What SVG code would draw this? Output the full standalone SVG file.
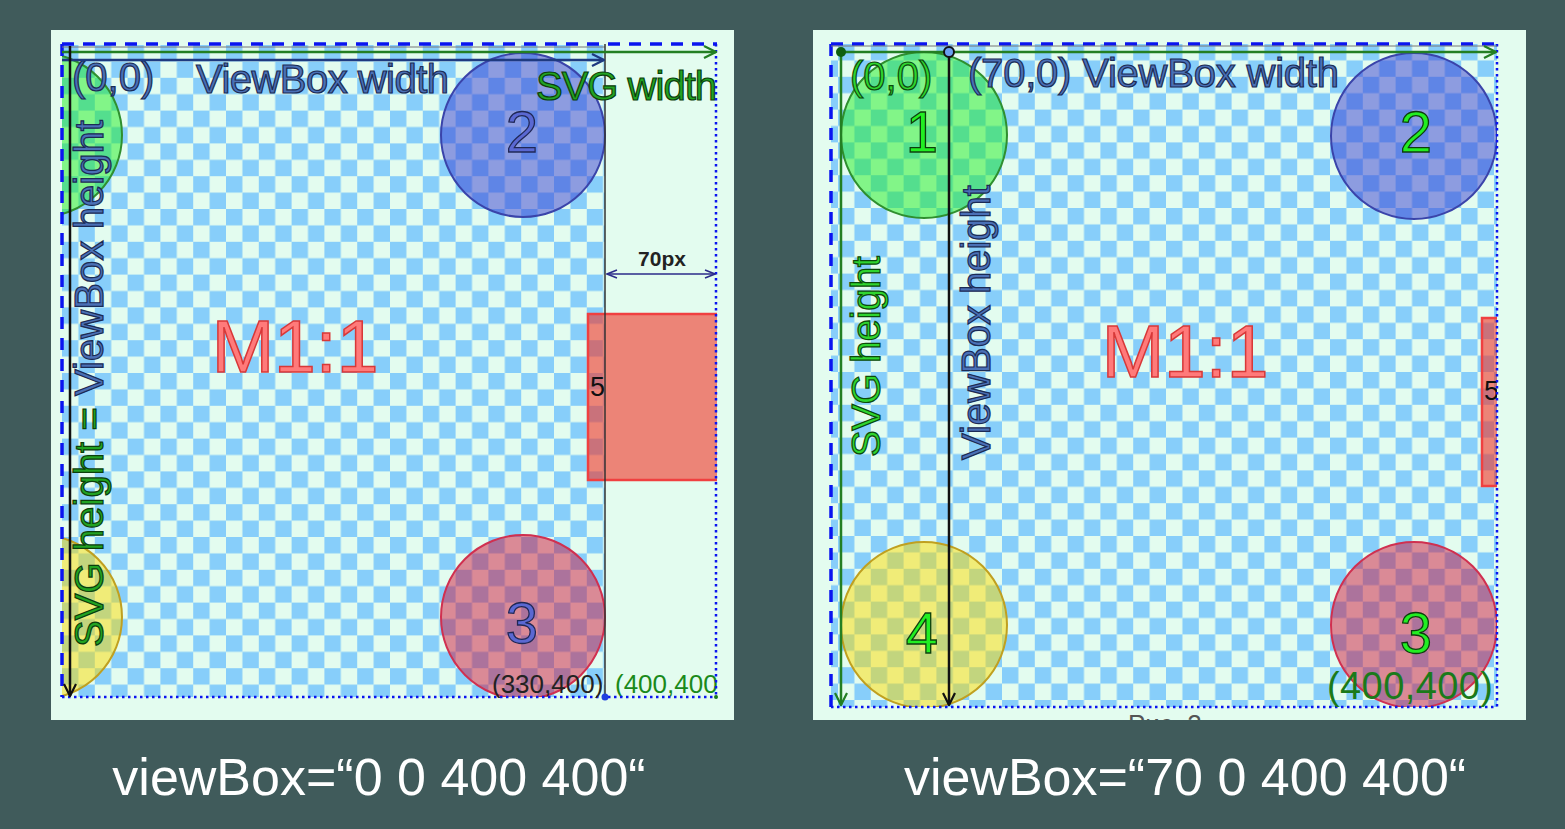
<svg xmlns="http://www.w3.org/2000/svg" width="1565" height="829" viewBox="0 0 1565 829">
  <style>
    text { font-family: "Liberation Sans", Arial, sans-serif; }
    .panel { fill: #e3fcef; }
    .navyT { fill: #4a70b6; stroke: #1b2b55; stroke-width: 1.2; font-size: 40px; }
    .greenT { fill: #22a322; stroke: #0b3f0b; stroke-width: 1.2; font-size: 40px; }
    .limeT { fill: #2fd52f; stroke: #0b4a0b; stroke-width: 1.2; font-size: 40px; }
    .numL { fill: #5a68d2; stroke: #1f2755; stroke-width: 1.3; font-size: 58px; text-anchor: middle; }
    .numR { fill: #22ee22; stroke: #0d3d0d; stroke-width: 1.3; font-size: 58px; text-anchor: middle; }
    .m11 { fill: #ff7a7a; stroke: #d83838; stroke-width: 1.5; font-size: 75px; text-anchor: middle; }
    .cap { fill: #ffffff; font-size: 52px; text-anchor: middle; }
    .c1 { fill: #22ee22; fill-opacity: 0.5; stroke: #2f8f2f; stroke-width: 2; }
    .c2 { fill: #383cd2; fill-opacity: 0.5; stroke: #3a44aa; stroke-width: 2; }
    .c3 { fill: #d2183e; fill-opacity: 0.5; stroke: #d03050; stroke-width: 2; }
    .c4 { fill: #fedc02; fill-opacity: 0.5; stroke: #c0a020; stroke-width: 2; }
    .r5 { fill: #f23a2d; fill-opacity: 0.62; stroke: #f04040; stroke-width: 2.5; }
    .dash { stroke: #0a14f0; stroke-width: 3.5; stroke-dasharray: 12 9; fill: none; }
    .dot { stroke: #0a14f0; stroke-width: 2.5; stroke-dasharray: 2.5 3.5; fill: none; }
    .garr { stroke: #237f23; stroke-width: 2.5; fill: none; marker-end: url(#mG); }
    .narr { stroke: #1f3a80; stroke-width: 2.5; fill: none; marker-end: url(#mN); }
    .barr { stroke: #111; stroke-width: 2.5; fill: none; marker-end: url(#mB); }
    .thin { stroke: #777; stroke-width: 1; fill: none; }
  </style>
  <defs>
    <pattern id="chkL" x="62" y="45" width="32.8" height="32.8" patternUnits="userSpaceOnUse">
      <rect width="32.8" height="32.8" fill="#e3fcef"/>
      <rect width="16.4" height="16.4" fill="#87cefa"/>
      <rect x="16.4" y="16.4" width="16.4" height="16.4" fill="#87cefa"/>
    </pattern>
    <pattern id="chkR" x="838" y="44" width="32.8" height="32.8" patternUnits="userSpaceOnUse">
      <rect width="32.8" height="32.8" fill="#e3fcef"/>
      <rect width="16.4" height="16.4" fill="#87cefa"/>
      <rect x="16.4" y="16.4" width="16.4" height="16.4" fill="#87cefa"/>
    </pattern>
    <clipPath id="clipL"><rect x="62" y="44" width="655" height="653"/></clipPath>
    <clipPath id="clipR"><rect x="831" y="44" width="666" height="663"/></clipPath>
    <clipPath id="clipRP"><rect x="813" y="30" width="713" height="690"/></clipPath>
    <marker id="mG" markerUnits="userSpaceOnUse" viewBox="0 0 14 14" refX="13" refY="7" markerWidth="14" markerHeight="14" orient="auto">
      <path d="M1,1 L13,7 L1,13" fill="none" stroke="#237f23" stroke-width="2.2"/>
    </marker>
    <marker id="mN" markerUnits="userSpaceOnUse" viewBox="0 0 14 14" refX="13" refY="7" markerWidth="14" markerHeight="14" orient="auto">
      <path d="M1,1 L13,7 L1,13" fill="none" stroke="#1f3a80" stroke-width="2.2"/>
    </marker>
    <marker id="mB" markerUnits="userSpaceOnUse" viewBox="0 0 14 14" refX="13" refY="7" markerWidth="14" markerHeight="14" orient="auto">
      <path d="M1,1 L13,7 L1,13" fill="none" stroke="#111" stroke-width="2.2"/>
    </marker>
    <marker id="mD" markerUnits="userSpaceOnUse" viewBox="0 0 12 10" refX="11" refY="5" markerWidth="12" markerHeight="10" orient="auto-start-reverse">
      <path d="M1,1 L11,5 L1,9" fill="none" stroke="#2b2b8a" stroke-width="1.5"/>
    </marker>
  </defs>

  <rect width="1565" height="829" fill="#405b5b"/>

  <!-- LEFT PANEL -->
  <g id="left-panel">
    <rect class="panel" x="51" y="30" width="683" height="690"/>
    <rect x="62" y="45" width="543" height="652" fill="url(#chkL)"/>
    <g clip-path="url(#clipL)">
      <g id="L-circle1"><circle class="c1" cx="40" cy="135" r="82"/></g>
      <g id="L-circle4"><circle class="c4" cx="40" cy="617" r="82"/></g>
      <g id="L-circle2"><circle class="c2" cx="523" cy="135" r="82"/><text class="numL" x="522" y="152">2</text></g>
      <g id="L-circle3"><circle class="c3" cx="523" cy="617" r="82"/><text class="numL" x="522" y="643">3</text></g>
      <g id="L-rect5"><rect class="r5" x="588" y="314" width="135" height="166"/><text x="590" y="396" font-size="27" fill="#111">5</text></g>
      <text id="L-p400" x="615" y="693" font-size="26" fill="#1a8a1a">(400,400</text>
    </g>
    <line x1="62" y1="44" x2="717" y2="44" class="dash"/>
    <line x1="62" y1="44" x2="62" y2="697" class="dash"/>
    <line x1="62" y1="697" x2="717" y2="697" class="dot"/>
    <line x1="716" y1="44" x2="716" y2="697" class="dot"/>
    <line x1="62" y1="47" x2="605" y2="47" class="thin"/>
    <line x1="605" y1="44" x2="605" y2="697" stroke="#333" stroke-width="1.5"/>
    <g id="L-M11"><text class="m11" x="295" y="372">M1:1</text></g>
    <text id="L-origin" class="navyT" x="72" y="91">(0,0)</text>
    <text id="L-vbw" class="navyT" x="196" y="93" textLength="253">ViewBox width</text>
    <text id="L-svgw" class="greenT" x="536" y="100" textLength="181" font-size="38">SVG width</text>
    <text id="L-70px" x="662" y="266" font-size="21" font-weight="bold" fill="#222" text-anchor="middle">70px</text>
    <text id="L-vert" transform="translate(103,647) rotate(-90)" font-size="40" textLength="527"><tspan class="greenT">SVG height =</tspan><tspan class="navyT"> ViewBox height</tspan></text>
    <text id="L-p330" x="492" y="693" font-size="26" fill="#222">(330,400)</text>
    <circle cx="605" cy="697" r="3.5" fill="#2040e0"/>
    <circle cx="716" cy="697" r="2" fill="#1a7a1a"/>
  </g>

  <!-- RIGHT PANEL -->
  <g id="right-panel">
    <rect class="panel" x="813" y="30" width="713" height="690"/>
    <rect x="831" y="44" width="666" height="663" fill="url(#chkR)"/>
    <g clip-path="url(#clipR)">
      <g id="R-circle1"><circle class="c1" cx="924" cy="135" r="83"/><text class="numR" x="922" y="152">1</text></g>
      <g id="R-circle2"><circle class="c2" cx="1414" cy="136" r="83"/><text class="numR" x="1416" y="152">2</text></g>
      <g id="R-circle4"><circle class="c4" cx="924" cy="625" r="83"/><text class="numR" x="922" y="653">4</text></g>
      <g id="R-circle3"><circle class="c3" cx="1414" cy="625" r="83"/><text class="numR" x="1416" y="653">3</text></g>
      <g id="R-rect5"><rect class="r5" x="1482" y="318" width="30" height="168"/><text x="1484" y="400" font-size="27" fill="#111">5</text></g>
    </g>
    <line x1="831" y1="44" x2="1497" y2="44" class="dash"/>
    <line x1="831" y1="44" x2="831" y2="707" class="dash"/>
    <line x1="831" y1="707" x2="1497" y2="707" class="dot"/>
    <line x1="1497" y1="44" x2="1497" y2="707" class="dot"/>
    <line x1="831" y1="46" x2="1497" y2="46" class="thin"/>
    <g id="R-M11"><text class="m11" x="1185" y="377">M1:1</text></g>
    <text id="R-origin" class="limeT" x="850" y="90">(0,0)</text>
    <text id="R-vbw" class="navyT" x="968" y="87" textLength="371">(70,0) ViewBox width</text>
    <text id="R-svgh" class="limeT" transform="translate(880,457) rotate(-90)" textLength="201">SVG height</text>
    <text id="R-vbh" class="navyT" transform="translate(990,460) rotate(-90)" textLength="275">ViewBox height</text>
    <text id="R-p400" x="1327" y="699" font-size="38" fill="#1a7a1a" textLength="166">(400,400)</text>
    <text id="R-fig" clip-path="url(#clipRP)" x="1128" y="733" font-size="26" fill="#555">Рис. 2</text>
  </g>

  <!-- CONNECTORS -->
  <g id="connectors">
    <line class="garr" x1="62" y1="52" x2="716" y2="52"/>
    <line class="narr" x1="62" y1="60" x2="604" y2="60"/>
    <line class="barr" x1="70" y1="46" x2="70" y2="696"/>
    <line x1="607" y1="274" x2="715" y2="274" stroke="#2b2b8a" stroke-width="1.5" marker-start="url(#mD)" marker-end="url(#mD)"/>
    <line class="garr" x1="841" y1="52" x2="1496" y2="52"/>
    <line class="garr" x1="841" y1="52" x2="841" y2="705"/>
    <line class="barr" x1="949" y1="52" x2="949" y2="705"/>
    <circle cx="841" cy="52" r="5" fill="#0f5f0f"/>
    <circle cx="949" cy="52" r="5" fill="#6aa0f0" stroke="#111" stroke-width="2"/>
  </g>

  <!-- CAPTIONS -->
  <text id="cap-left" class="cap" x="379" y="795">viewBox=“0 0 400 400“</text>
  <text id="cap-right" class="cap" x="1185" y="795">viewBox=“70 0 400 400“</text>
</svg>
